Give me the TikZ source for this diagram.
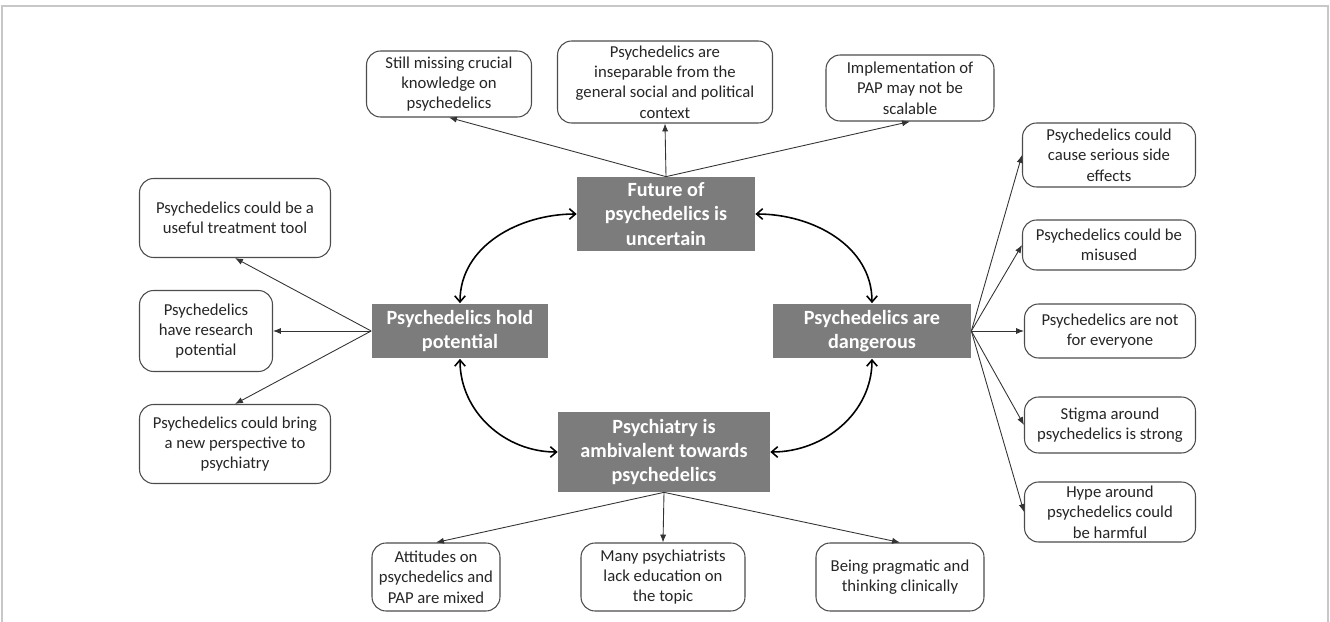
\documentclass[tikz,border=0pt]{standalone}
\usepackage{fontspec}
\setmainfont{Carlito}
\usepackage{xcolor}
\usepackage{tikz}
\usetikzlibrary{shapes,arrows,positioning,calc,arrows.meta}

\definecolor{themegray}{RGB}{124,124,124}
\definecolor{framegray}{RGB}{200,200,200}

\tikzset{
  theme/.style={fill=themegray, text=white, align=center, inner sep=0pt,
    font=\fontsize{11.5}{13.8}\selectfont\bfseries},
  finding/.style={draw=black!70, fill=white, rounded corners=8pt, align=center,
    inner sep=0pt, line width=0.6pt, text=black!85,
    font=\fontsize{9.5}{11.6}\selectfont},
  link/.style={-{Latex[length=4.5pt,width=3.5pt]}, line width=0.5pt, black!80},
  loopline/.style={{Straight Barb[length=3.5pt,width=6pt]}-{Straight Barb[length=3.5pt,width=6pt]}, line width=0.9pt},
}

\begin{document}
\begin{tikzpicture}[x=0.02cm, y=-0.02cm]
    \useasboundingbox (0,0) rectangle (1330,622);
    \draw[framegray, line width=0.7pt] (2,622) |- (1328,6) -- (1328,622);

    \node[theme, minimum width=3.56cm, minimum height=1.48cm] (future) at (666,214) {Future of\\ psychedelics is\\ uncertain};
    \node[theme, minimum width=3.54cm, minimum height=1.1cm] (hold) at (460,331) {Psychedelics hold\\ potential};
    \node[theme, minimum width=3.96cm, minimum height=1.1cm] (danger) at (872,331) {Psychedelics are\\ dangerous};
    \node[theme, minimum width=4.24cm, minimum height=1.6cm] (psych) at (664,452) {Psychiatry is\\ ambivalent towards\\ psychedelics};

    \node[finding, minimum width=3.3cm, minimum height=1.32cm] (missing) at (449,84) {Still missing crucial\\ knowledge on\\ psychedelics};
    \node[finding, minimum width=4.3cm, minimum height=1.64cm] (insep) at (665,82) {Psychedelics are\\ inseparable from the\\ general social and political\\ context};
    \node[finding, minimum width=3.36cm, minimum height=1.32cm] (impl) at (910,88) {Implementation of\\ PAP may not be\\ scalable};

    \node[finding, minimum width=3.82cm, minimum height=1.58cm] (useful) at (235,218) {Psychedelics could be a\\ useful treatment tool};
    \node[finding, minimum width=2.66cm, minimum height=1.62cm] (research) at (206,331) {Psychedelics\\ have research\\ potential};
    \node[finding, minimum width=3.82cm, minimum height=1.58cm] (newview) at (235,444) {Psychedelics could bring\\ a new perspective to\\ psychiatry};

    \node[finding, minimum width=3.46cm, minimum height=1.28cm] (side) at (1109,155) {Psychedelics could\\ cause serious side\\ effects};
    \node[finding, minimum width=3.46cm, minimum height=1.0cm] (misuse) at (1109,245) {Psychedelics could be\\ misused};
    \node[finding, minimum width=3.42cm, minimum height=1.08cm] (noteveryone) at (1110,331) {Psychedelics are not\\ for everyone};
    \node[finding, minimum width=3.42cm, minimum height=1.12cm] (stigma) at (1110,425) {Stigma around\\ psychedelics is strong};
    \node[finding, minimum width=3.42cm, minimum height=1.2cm] (hype) at (1110,512) {Hype around\\ psychedelics could\\ be harmful};

    \node[finding, minimum width=2.56cm, minimum height=1.36cm] (attitudes) at (436,577) {Attitudes on\\ psychedelics and\\ PAP are mixed};
    \node[finding, minimum width=3.28cm, minimum height=1.36cm] (education) at (663,577) {Many psychiatrists\\ lack education on\\ the topic};
    \node[finding, minimum width=3.36cm, minimum height=1.36cm] (pragmatic) at (900,577) {Being pragmatic and\\ thinking clinically};

    \draw[loopline] (hold.north) to[out=90, in=180] (future.west);
    \draw[loopline] (future.east) to[out=0, in=90] (danger.north);
    \draw[loopline] (hold.south) to[out=-90, in=180] (psych.west);
    \draw[loopline] (danger.south) to[out=-90, in=0] (psych.east);

    \draw[link] (future.north) -- (missing.south);
    \draw[link] (future.north) -- (insep.south);
    \draw[link] (future.north) -- (impl.south);

    \draw[link] (hold.west) -- (useful.south);
    \draw[link] (hold.west) -- (research.east);
    \draw[link] (hold.west) -- (newview.north);

    \foreach \n in {side,misuse,noteveryone,stigma,hype}
        \draw[link] (danger.east) -- (\n.west);

    \draw[link] (psych.south) -- (attitudes.north);
    \draw[link] (psych.south) -- (education.north);
    \draw[link] (psych.south) -- (pragmatic.north);
\end{tikzpicture}
\end{document}
